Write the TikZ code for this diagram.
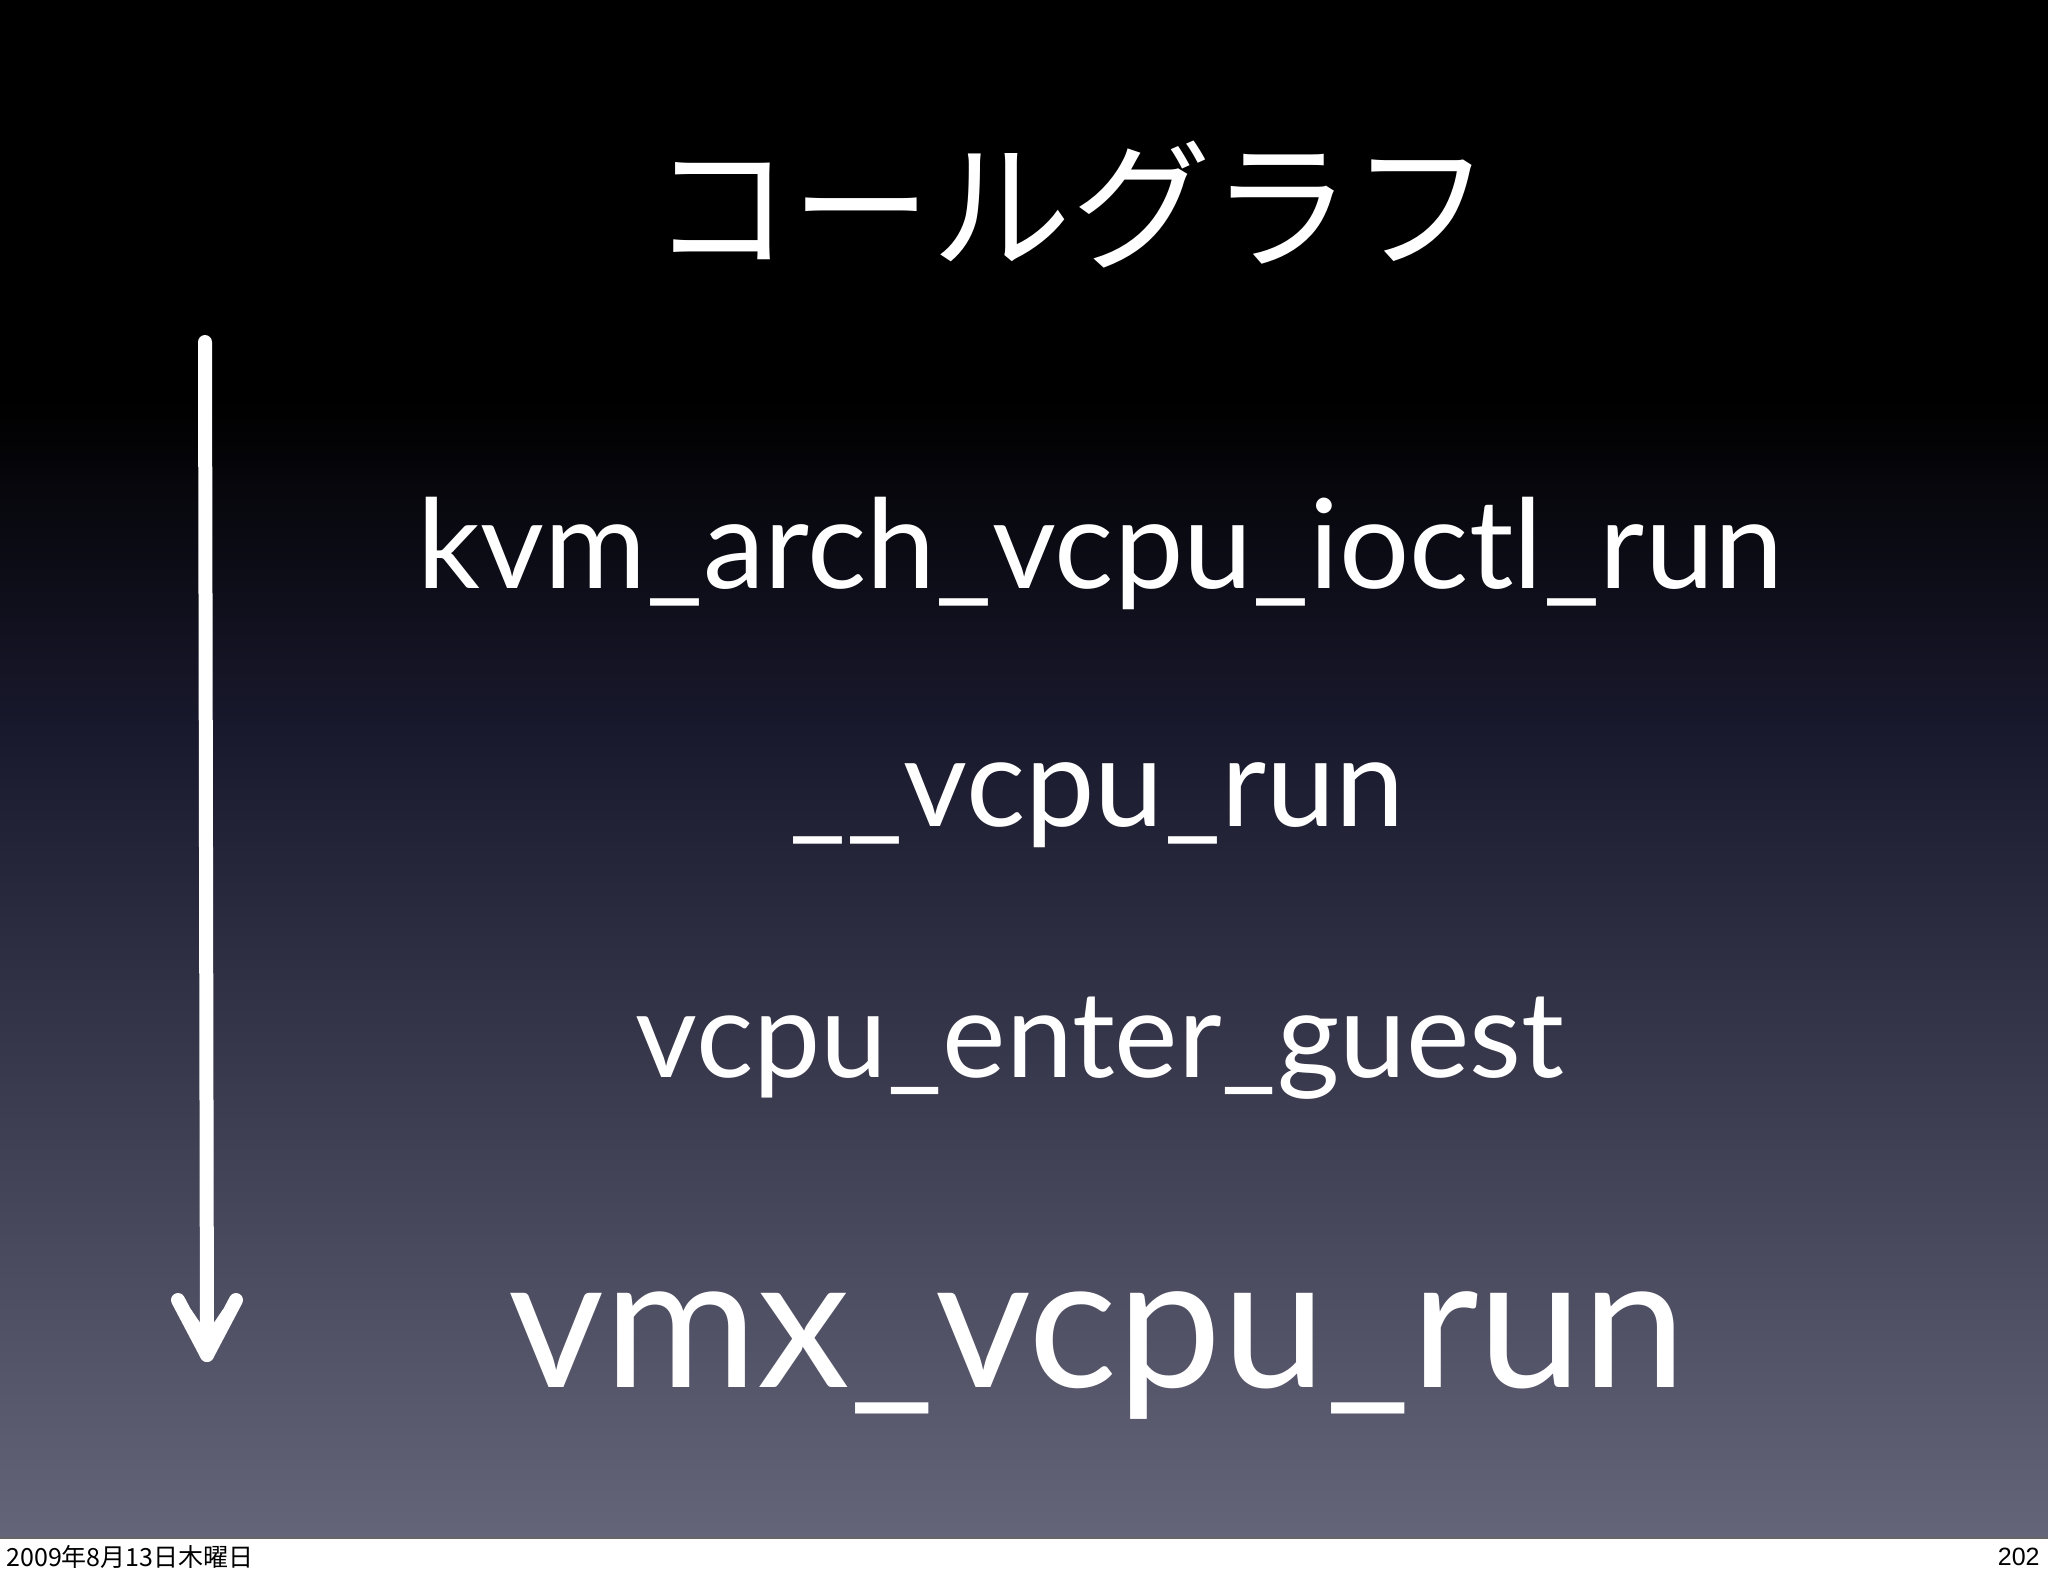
\documentclass[tikz,border=0pt]{standalone}
\usepackage{fontspec}
\setmainfont{Lato}
\newfontfamily\cjk{Noto Sans CJK JP}
\newfontfamily\foot{Liberation Sans}
\definecolor{bgbot}{RGB}{101,101,122}
\definecolor{bgmid}{RGB}{24,24,44}
\begin{document}
\begin{tikzpicture}[x=0.5pt,y=-0.5pt,
  fn/.style={text=white,inner sep=0pt,anchor=center},
  chalk/.style={white,line width=7,line cap=round}]
\useasboundingbox (0,0) rectangle (2048,1576);
\fill[black] (0,0) rectangle (2048,400);
\shade[top color=black,bottom color=bgmid] (0,399) rectangle (2048,720);
\shade[top color=bgmid,bottom color=bgbot] (0,719) rectangle (2048,1538);
\fill[white] (0,1538) rectangle (2048,1576);
\draw[black!60,line width=1] (0,1538) -- (2048,1538);
\node[fn] (title) at (1071,205) {\cjk\fontsize{70}{72}\selectfont コールグラフ};
\node[fn] (f1) at (1100,553) {\fontsize{62}{66}\selectfont kvm\_arch\_vcpu\_ioctl\_run};
\node[fn] (f2) at (1097,805) {\fontsize{62}{66}\selectfont \_\_vcpu\_run};
\node[fn] (f3) at (1100,1048) {\fontsize{60}{66}\selectfont vcpu\_enter\_guest};
\node[fn] (f4) at (1097,1355) {\fontsize{93}{98}\selectfont vmx\_vcpu\_run};
\coordinate (a0) at (205,342);
\coordinate (a1) at (207,1355);
\draw[chalk] (a0) -- (a1);
\draw[chalk,line join=round] (178,1300) -- (a1) -- (236,1300);
\draw[chalk,line width=4] (188,1312) -- (207,1340) -- (226,1312);
\node[anchor=west,inner sep=0pt] (d) at (6,1557) {\cjk\fontsize{12.5}{13}\selectfont 2009年8月13日木曜日};
\node[anchor=east,inner sep=0pt] (p) at (2040,1557) {\foot\fontsize{12.5}{13}\selectfont 202};
\end{tikzpicture}
\end{document}
